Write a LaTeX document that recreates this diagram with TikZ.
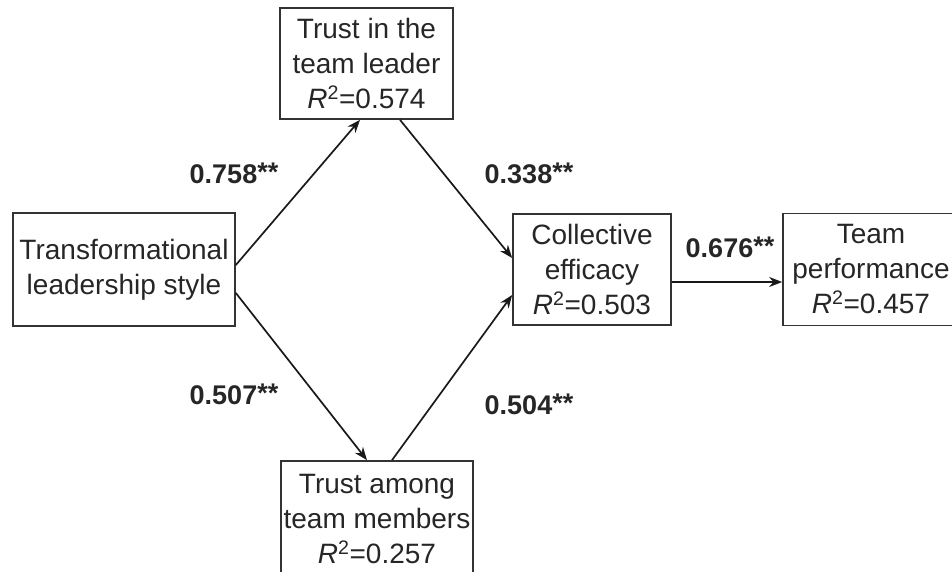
\documentclass[tikz,border=0pt]{standalone}
\usepackage{fontspec}
\setmainfont{Liberation Sans}
\usetikzlibrary{arrows.meta}

\newcommand{\stars}{\raisebox{2pt}{**}}

\begin{document}
\begin{tikzpicture}[x=1pt,y=1pt,
	box/.style={draw=black!80,line width=1.7pt,align=center,inner sep=0pt,text=black!85,font=\fontsize{28}{35}\selectfont},
	link/.style={line width=1.7pt,draw=black!90,-{Stealth[length=13pt,width=10pt]}},
	coef/.style={font=\bfseries\fontsize{27}{30}\selectfont,text=black!85}]
	\useasboundingbox (0,0) rectangle (952,571);
	\node[box,minimum width=222,minimum height=113] (tls) at (124,301.5) {Transformational\\leadership style};
	\node[box,minimum width=173,minimum height=111] (ttl) at (366.5,507.5) {Trust in the\\team leader\\\textit{R}\textsuperscript{2}=0.574};
	\node[box,minimum width=192,minimum height=116] (tam) at (377,52) {Trust among\\team members\\\textit{R}\textsuperscript{2}=0.257};
	\node[box,minimum width=158,minimum height=111] (ce) at (592,301.5) {Collective\\efficacy\\\textit{R}\textsuperscript{2}=0.503};
	\node[box,minimum width=176,minimum height=112] (tp) at (871,301.5) {Team\\performance\\\textit{R}\textsuperscript{2}=0.457};
	\draw[link] ([yshift=4.5]tls.east) -- ([xshift=-6.5]ttl.south);
	\draw[link] ([yshift=-23.5]tls.east) -- ([xshift=-10]tam.north);
	\draw[link] ([xshift=33.5]ttl.south) -- ([yshift=11.5]ce.west);
	\draw[link] ([xshift=15]tam.north) -- ([yshift=-25.5]ce.west);
	\draw[link] ([yshift=-12.5]ce.east) -- ([yshift=-12.5]tp.west);
	\node[coef] (c1) at (234,398) {0.758\stars};
	\node[coef] (c2) at (234,177) {0.507\stars};
	\node[coef] (c3) at (529,398) {0.338\stars};
	\node[coef] (c4) at (529,167) {0.504\stars};
	\node[coef] (c5) at (730,324) {0.676\stars};
\end{tikzpicture}
\end{document}
